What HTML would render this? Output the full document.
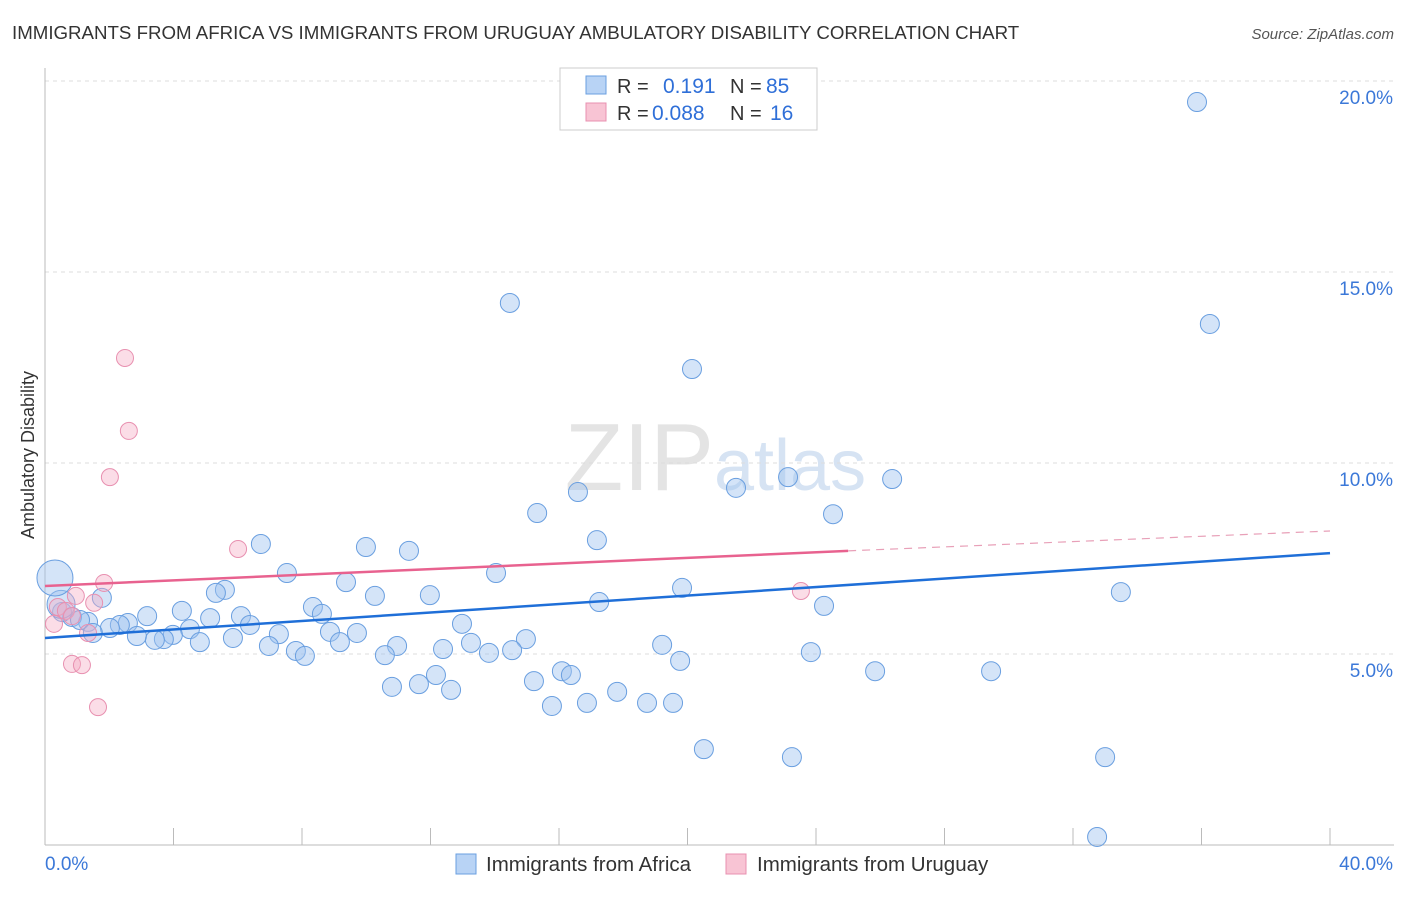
<!DOCTYPE html>
<html><head><meta charset="utf-8"><style>
body{margin:0;background:#fff;font-family:"Liberation Sans",sans-serif}
svg text{font-family:"Liberation Sans",sans-serif}
</style></head><body>
<svg id="c" width="1406" height="892" viewBox="0 0 1406 892" xmlns="http://www.w3.org/2000/svg">
<text x="12" y="39" font-size="18.7" fill="#333">IMMIGRANTS FROM AFRICA VS IMMIGRANTS FROM URUGUAY AMBULATORY DISABILITY CORRELATION CHART</text>
<text x="1394" y="39" font-size="15" fill="#555" text-anchor="end" font-style="italic">Source: ZipAtlas.com</text>
<text x="0" y="0" transform="translate(34,455) rotate(-90)" font-size="18" fill="#333" text-anchor="middle">Ambulatory Disability</text>
<text x="714" y="490" font-size="96" fill="#e4e4e4" text-anchor="end" font-family="Liberation Serif">ZIP</text>
<text x="714" y="490" font-size="72" fill="#d6e3f3">atlas</text>
<g id="grid"></g><g id="axes"></g><g id="pts"></g><g id="lines"></g>
<g>
<rect x="560" y="68" width="257" height="62" fill="#fff" stroke="#ccc"/>
<rect x="586" y="76" width="20" height="18" fill="#b8d3f5" stroke="#6a9fe0"/>
<rect x="586" y="103" width="20" height="18" fill="#f8c4d4" stroke="#e890b0"/>
<text x="617" y="93" font-size="20" fill="#333">R = </text><text x="663" y="93" font-size="21" fill="#2f6fd8">0.191</text>
<text x="730" y="93" font-size="20" fill="#333">N = </text><text x="766" y="93" font-size="21" fill="#2f6fd8">85</text>
<text x="617" y="120" font-size="20" fill="#333">R = </text><text x="652" y="120" font-size="21" fill="#2f6fd8">0.088</text>
<text x="730" y="120" font-size="20" fill="#333">N = </text><text x="770" y="120" font-size="21" fill="#2f6fd8">16</text>
</g>
<g>
<rect x="456" y="854" width="20" height="20" fill="#b8d3f5" stroke="#6a9fe0"/>
<text x="486" y="871" font-size="20.5" fill="#333">Immigrants from Africa</text>
<rect x="726" y="854" width="20" height="20" fill="#f8c4d4" stroke="#e890b0"/>
<text x="757" y="871" font-size="20.5" fill="#333">Immigrants from Uruguay</text>
</g>
</svg>
<script>
const yTicks=[5,10,15,20];
const xLabels=["0.0%","40.0%"];
const blueX=[35.86,14.47,36.26,20.14,16.59,21.51,23.13,26.37,15.32,24.53,6.72,9.99,11.33,17.18,7.53,14.04,9.37,5.60,5.32,10.27,11.98,19.83,17.25,33.49,24.25,1.77,8.34,8.62,4.26,3.18,5.14,6.10,6.38,2.58,2.33,1.34,0.84,0.53,1.09,2.02,4.51,3.98,3.70,3.42,2.86,4.82,5.85,7.28,8.87,9.71,12.98,14.97,13.26,14.54,13.82,10.96,12.39,10.58,19.21,6.97,7.81,8.09,9.18,19.77,23.84,16.09,16.37,25.84,29.45,15.22,12.17,10.80,11.64,12.64,17.81,16.87,18.74,19.55,15.78,20.51,23.25,33.0,32.75,1.49,0.5,0.31];
const blueY=[19.45,14.19,13.64,12.46,9.24,9.35,9.63,9.58,8.69,8.66,7.88,7.80,7.70,7.98,7.12,7.12,6.88,6.68,6.60,6.52,6.54,6.73,6.36,6.62,6.26,6.47,6.23,6.05,6.13,5.99,5.94,5.99,5.76,5.81,5.76,5.84,5.97,6.10,5.89,5.68,5.65,5.50,5.39,5.37,5.47,5.31,5.42,5.52,5.58,5.55,5.79,5.39,5.29,5.10,5.03,5.21,5.13,4.97,5.24,5.21,5.08,4.95,5.31,4.82,5.05,4.55,4.45,4.55,4.55,4.29,4.45,4.14,4.21,4.06,4.01,3.72,3.72,3.72,3.64,2.51,2.30,2.30,0.21,5.55,6.3,6.99];
const blueR=blueX.map((_,i)=>i===blueX.length-1?18:(i===blueX.length-2?14:9.5));
const pinkX=[2.49,2.61,2.02,6.01,1.84,23.53,0.96,1.53,0.40,0.65,0.84,0.28,1.34,0.84,1.15,1.65];
const pinkY=[12.75,10.84,9.63,7.75,6.86,6.65,6.52,6.34,6.23,6.13,5.99,5.79,5.55,4.74,4.71,3.61];
const blueLine=[[0,5.42],[40,7.64]];
const pinkLine=[[0,6.78],[25,7.70],[40,8.22]];
const X=v=>45+v*32.125, Y=v=>845-v*38.2;
const NS="http://www.w3.org/2000/svg";
function mk(p,t,a){const e=document.createElementNS(NS,t);for(const k in a)e.setAttribute(k,a[k]);document.getElementById(p).appendChild(e);return e;}
yTicks.forEach(v=>{
 const l=mk('grid','line',{x1:45,x2:1394,y1:Y(v),y2:Y(v),stroke:'#ddd','stroke-dasharray':'4,4'});
 
 
 const t=mk('grid','text',{x:1393,y:Y(v)+23,'font-size':19,fill:'#3b78d8','text-anchor':'end'});
 t.textContent=v.toFixed(1)+'%';
 
 
});
const ax=mk('axes','line',{x1:45,x2:1394,y1:845,y2:845,stroke:'#bbb'});


const ay=mk('axes','line',{x1:45,x2:45,y1:68,y2:845,stroke:'#bbb'});


for(let i=0;i<=10;i++){const t=mk('axes','line',{x1:X(i*4),x2:X(i*4),y1:828,y2:845,stroke:'#bbb'});
 
 }
const xl0=mk('axes','text',{x:45,y:870,'font-size':19,fill:'#3b78d8'});xl0.textContent=xLabels[0];


const xl1=mk('axes','text',{x:1393,y:870,'font-size':19,fill:'#3b78d8','text-anchor':'end'});xl1.textContent=xLabels[1];


blueX.forEach((v,i)=>{const c=mk('pts','circle',{cx:X(v),cy:Y(blueY[i]),r:blueR[i],fill:'rgba(160,196,240,0.45)',stroke:'#6a9fe0','stroke-width':1});
 
 });
pinkX.forEach((v,i)=>{const c=mk('pts','circle',{cx:X(v),cy:Y(pinkY[i]),r:8.5,fill:'rgba(245,170,195,0.4)',stroke:'#e890b0','stroke-width':1});
 
 });
const bl=mk('lines','line',{x1:X(blueLine[0][0]),y1:Y(blueLine[0][1]),x2:X(blueLine[1][0]),y2:Y(blueLine[1][1]),stroke:'#1f6fd8','stroke-width':2.5});


const pl=mk('lines','line',{x1:X(pinkLine[0][0]),y1:Y(pinkLine[0][1]),x2:X(pinkLine[1][0]),y2:Y(pinkLine[1][1]),stroke:'#e8628f','stroke-width':2.5});


const pd=mk('lines','line',{x1:X(pinkLine[1][0]),y1:Y(pinkLine[1][1]),x2:X(pinkLine[2][0]),y2:Y(pinkLine[2][1]),stroke:'#e8a0b8','stroke-width':1.2,'stroke-dasharray':'8,6'});


</script>
</body></html>
